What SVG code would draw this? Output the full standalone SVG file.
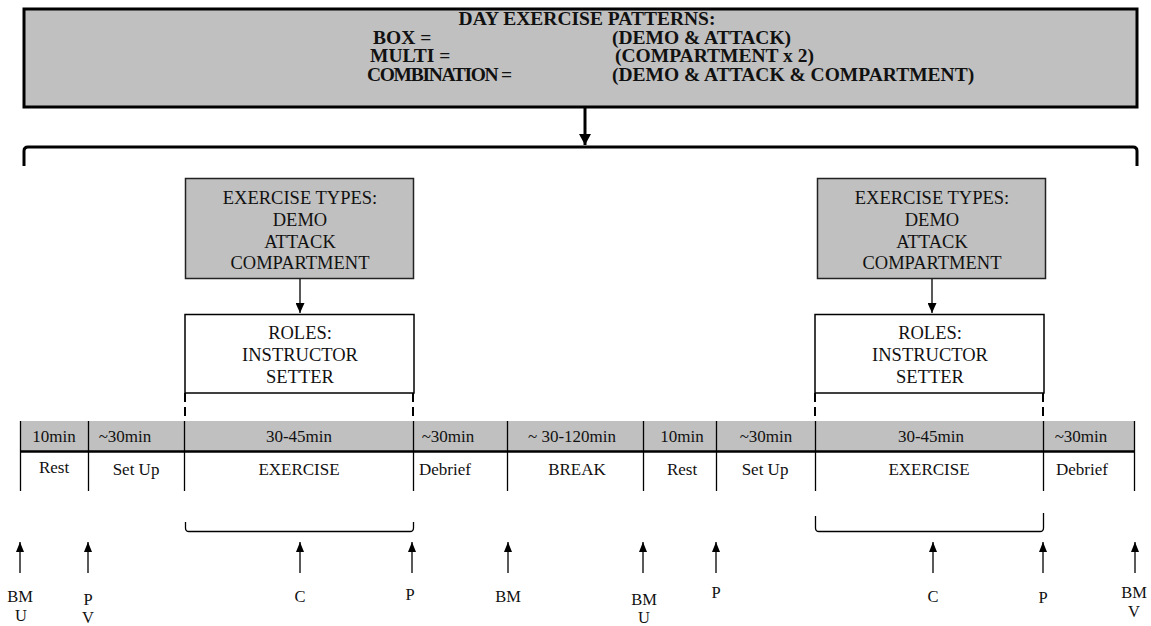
<svg xmlns="http://www.w3.org/2000/svg" width="1151" height="626" viewBox="0 0 1151 626">
<style>
text{font-family:"Liberation Serif","Times New Roman",serif;fill:#111}
.hd{font-size:19.5px;font-weight:bold}
.bx{font-size:18.5px;text-anchor:middle}
.tm{font-size:17px;text-anchor:middle}
.lb{font-size:16.5px;text-anchor:middle}
.gray{fill:#c0c0c0}
.thin{stroke:#000;stroke-width:1.3;fill:none}
.dash{stroke:#000;stroke-width:2;stroke-dasharray:9 5;fill:none}
</style>
<defs>
<marker id="ah" markerWidth="8" markerHeight="10" refX="4" refY="0" orient="0" markerUnits="userSpaceOnUse" viewBox="0 0 8 10">
<path d="M0,10 L4,0 L8,10 Z" fill="#000"/>
</marker>
<marker id="ahd" markerWidth="9" markerHeight="10" refX="4.5" refY="10" orient="0" markerUnits="userSpaceOnUse" viewBox="0 0 9 10">
<path d="M0,0 L9,0 L4.5,10 Z" fill="#000"/>
</marker>
<marker id="ahb" markerWidth="12" markerHeight="11" refX="6" refY="11" orient="0" markerUnits="userSpaceOnUse" viewBox="0 0 12 11">
<path d="M0,0 L12,0 L6,11 Z" fill="#000"/>
</marker>
</defs>

<g id="patterns">
<rect x="24" y="9" width="1113" height="98" class="gray" stroke="#000" stroke-width="3"/>
<text class="hd" x="587" y="25" text-anchor="middle">DAY EXERCISE PATTERNS:</text>
<text class="hd" x="373" y="43.5">BOX =</text>
<text class="hd" x="370" y="62">MULTI =</text>
<text class="hd" x="367" y="80.5" textLength="145" lengthAdjust="spacing">COMBINATION =</text>
<text class="hd" x="612" y="43.5">(DEMO &amp; ATTACK)</text>
<text class="hd" x="615" y="62">(COMPARTMENT x 2)</text>
<text class="hd" x="612" y="80.5">(DEMO &amp; ATTACK &amp; COMPARTMENT)</text>
</g>

<g id="day-bracket">
<path d="M24,166 V151 Q24,147 28,147 H1133 Q1137,147 1137,151 V166" fill="none" stroke="#000" stroke-width="3"/>
</g>

<g id="types-1">
<rect x="185.5" y="178.5" width="228" height="100" class="gray" stroke="#222" stroke-width="1.5"/>
<text class="bx" x="300" y="204">EXERCISE TYPES:</text>
<text class="bx" x="300" y="226">DEMO</text>
<text class="bx" x="300" y="248">ATTACK</text>
<text class="bx" x="300" y="269">COMPARTMENT</text>
</g>
<g id="roles-1">
<rect x="185" y="314.5" width="229" height="78.5" fill="#fff" stroke="#000" stroke-width="1.5"/>
<text class="bx" x="300" y="339">ROLES:</text>
<text class="bx" x="300" y="361">INSTRUCTOR</text>
<text class="bx" x="300" y="383">SETTER</text>
</g>
<g id="types-2">
<rect x="817.5" y="178.5" width="228" height="100" class="gray" stroke="#222" stroke-width="1.5"/>
<text class="bx" x="932" y="204">EXERCISE TYPES:</text>
<text class="bx" x="932" y="226">DEMO</text>
<text class="bx" x="932" y="248">ATTACK</text>
<text class="bx" x="932" y="269">COMPARTMENT</text>
</g>
<g id="roles-2">
<rect x="815" y="314.5" width="229" height="78.5" fill="#fff" stroke="#000" stroke-width="1.5"/>
<text class="bx" x="930" y="339">ROLES:</text>
<text class="bx" x="930" y="361">INSTRUCTOR</text>
<text class="bx" x="930" y="383">SETTER</text>
</g>

<g id="timeline">
<rect x="20" y="421" width="1115" height="30" class="gray"/>
<line x1="20" y1="451.5" x2="1135" y2="451.5" stroke="#000" stroke-width="2.5"/>
<g stroke="#000" stroke-width="1.3">
<line x1="20.5" y1="421" x2="20.5" y2="491"/>
<line x1="88.5" y1="421" x2="88.5" y2="491"/>
<line x1="184.5" y1="421" x2="184.5" y2="491"/>
<line x1="413.5" y1="421" x2="413.5" y2="491"/>
<line x1="507.5" y1="421" x2="507.5" y2="491"/>
<line x1="643.5" y1="421" x2="643.5" y2="491"/>
<line x1="716.5" y1="421" x2="716.5" y2="491"/>
<line x1="815.5" y1="421" x2="815.5" y2="491"/>
<line x1="1043.5" y1="421" x2="1043.5" y2="491"/>
<line x1="1134.5" y1="421" x2="1134.5" y2="491"/>
</g>
<text class="tm" x="54" y="442">10min</text>
<text class="tm" x="125" y="442">~30min</text>
<text class="tm" x="299" y="442">30-45min</text>
<text class="tm" x="448" y="442">~30min</text>
<text class="tm" x="572" y="442">~ 30-120min</text>
<text class="tm" x="682" y="442">10min</text>
<text class="tm" x="766" y="442">~30min</text>
<text class="tm" x="931" y="442">30-45min</text>
<text class="tm" x="1081" y="442">~30min</text>
<text class="tm" x="54" y="473">Rest</text>
<text class="tm" x="136" y="475">Set Up</text>
<text class="tm" x="299" y="475">EXERCISE</text>
<text class="tm" x="445" y="475">Debrief</text>
<text class="tm" x="577" y="475">BREAK</text>
<text class="tm" x="682" y="475">Rest</text>
<text class="tm" x="765" y="475">Set Up</text>
<text class="tm" x="929" y="475">EXERCISE</text>
<text class="tm" x="1082" y="475">Debrief</text>
</g>

<g id="connectors">
<line x1="585" y1="107" x2="585" y2="145" stroke="#000" stroke-width="3" marker-end="url(#ahb)"/>
<line x1="300" y1="279" x2="300" y2="313" stroke="#000" stroke-width="1.3" marker-end="url(#ahd)"/>
<line x1="932" y1="279" x2="932" y2="313" stroke="#000" stroke-width="1.3" marker-end="url(#ahd)"/>
<line x1="185" y1="393" x2="185" y2="421" class="dash"/>
<line x1="413" y1="393" x2="413" y2="421" class="dash"/>
<line x1="815" y1="393" x2="815" y2="421" class="dash"/>
<line x1="1043" y1="393" x2="1043" y2="421" class="dash"/>
<path d="M185.5,522 V528 Q185.5,531.5 189,531.5 H410 Q413.5,531.5 413.5,528 V522" class="thin"/>
<path d="M815.5,516 V528 Q815.5,531.5 819,531.5 H1040 Q1043.5,531.5 1043.5,528 V513" class="thin"/>
<g stroke="#000" stroke-width="1.3" marker-start="url(#ah)">
<line x1="20" y1="542" x2="20" y2="573"/>
<line x1="88" y1="542" x2="88" y2="573"/>
<line x1="300" y1="542" x2="300" y2="573"/>
<line x1="412" y1="542" x2="412" y2="573"/>
<line x1="508" y1="542" x2="508" y2="573"/>
<line x1="643" y1="542" x2="643" y2="573"/>
<line x1="716" y1="542" x2="716" y2="573"/>
<line x1="933" y1="542" x2="933" y2="573"/>
<line x1="1043" y1="542" x2="1043" y2="573"/>
<line x1="1135" y1="542" x2="1135" y2="573"/>
</g>
</g>

<g id="markers-labels">
<text class="lb" x="20" y="602">BM</text>
<text class="lb" x="21" y="621">U</text>
<text class="lb" x="88" y="605">P</text>
<text class="lb" x="88" y="623">V</text>
<text class="lb" x="300" y="602">C</text>
<text class="lb" x="410" y="600">P</text>
<text class="lb" x="508" y="602">BM</text>
<text class="lb" x="644" y="605">BM</text>
<text class="lb" x="644" y="623">U</text>
<text class="lb" x="716" y="598">P</text>
<text class="lb" x="933" y="602">C</text>
<text class="lb" x="1043" y="603">P</text>
<text class="lb" x="1134" y="598">BM</text>
<text class="lb" x="1134" y="617">V</text>
</g>
</svg>
